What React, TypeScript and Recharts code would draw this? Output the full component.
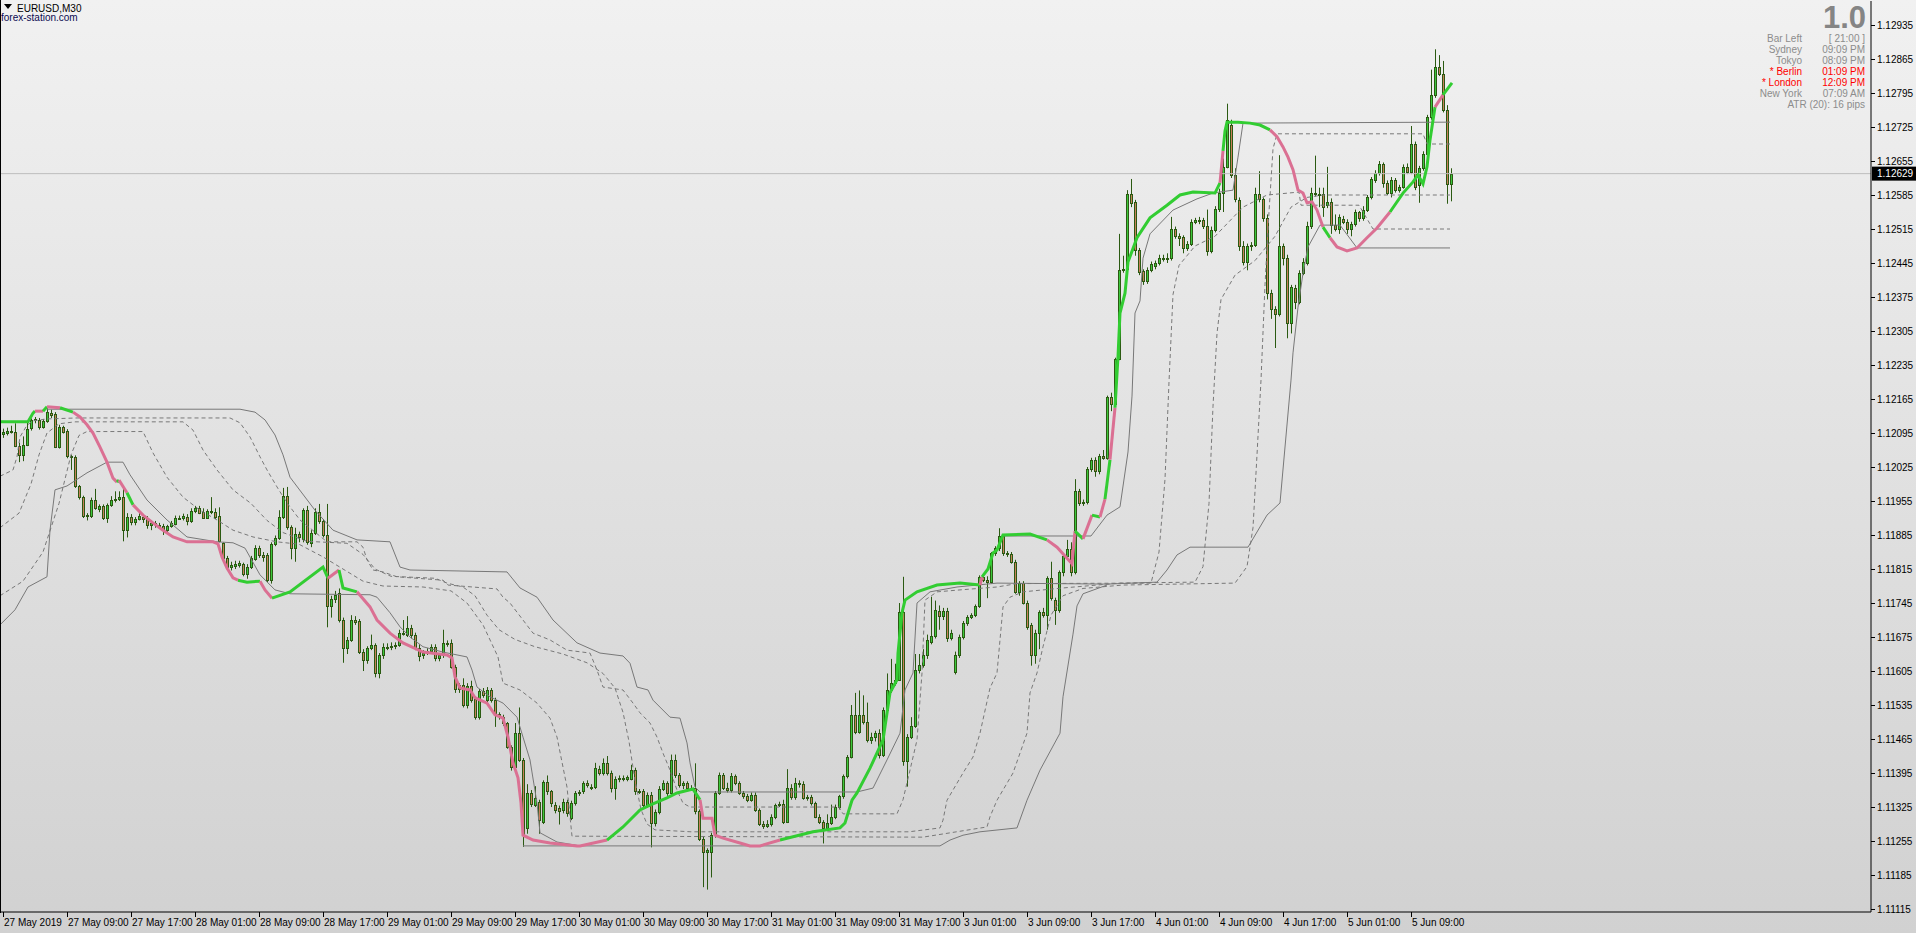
import React from 'react';
import { ComposedChart, Bar, Line, XAxis, YAxis, ReferenceLine } from 'recharts';

// price = 1.11 + v / 100000  (v = points above 1.11000)
const opens = [1092,1095,1099,1098,1069,1050,1071,1105,1121,1121,1107,1119,1137,1134,1066,1107,1099,1047,1045,985,964,925,925,958,938,945,921,947,958,959,963,896,923,911,918,922,920,906,910,906,904,895,903,908,921,920,923,914,935,940,932,921,934,932,925,868,837,820,822,824,826,805,819,836,858,843,844,793,867,879,923,966,901,859,888,876,937,868,889,933,913,885,739,753,765,710,652,669,710,707,645,628,652,659,600,638,655,655,656,659,683,679,693,679,652,638,643,647,655,631,638,662,663,614,567,576,535,575,547,511,563,545,566,545,516,511,497,449,408,477,422,281,353,330,336,295,376,357,329,322,319,336,302,333,353,357,374,367,367,404,395,415,395,364,383,385,383,383,401,357,358,329,350,292,315,363,374,353,422,391,370,374,364,365,316,260,233,233,268,354,391,365,360,388,374,353,347,340,350,319,291,286,291,305,329,332,295,364,345,374,372,343,346,333,305,295,281,292,305,326,347,388,429,515,480,515,501,463,470,477,432,525,566,580,587,727,419,470,491,607,617,638,665,677,729,718,729,672,604,638,676,703,717,720,738,799,792,789,847,858,882,847,845,830,768,786,746,700,638,683,727,720,796,751,731,808,841,857,808,975,951,952,1020,1039,1016,1048,1044,1170,1154,1248,1431,1432,1588,1571,1472,1429,1407,1431,1439,1446,1455,1455,1455,1514,1500,1498,1476,1484,1530,1533,1533,1521,1470,1512,1557,1590,1643,1730,1626,1575,1479,1448,1479,1482,1587,1576,1537,1383,1350,1341,1479,1455,1321,1393,1365,1424,1446,1521,1590,1587,1588,1564,1571,1523,1514,1535,1530,1514,1525,1549,1537,1555,1580,1616,1631,1649,1610,1590,1616,1595,1602,1642,1633,1689,1606,1640,1669,1746,1791,1848,1834,1760,1608];
const highs = [1104,1106,1110,1115,1075,1088,1117,1125,1128,1126,1124,1146,1143,1138,1112,1110,1103,1050,1049,988,966,930,962,980,948,948,950,965,975,975,985,930,928,922,930,926,924,915,914,910,908,906,914,925,925,929,928,940,945,945,940,938,963,940,942,870,842,830,832,832,828,825,842,864,863,850,848,870,884,936,982,984,905,900,892,940,945,895,940,949,918,949,760,770,775,715,675,720,718,712,650,656,680,662,642,662,662,664,664,690,710,718,700,684,660,648,652,660,660,642,690,668,670,618,580,590,580,585,552,568,570,572,570,550,520,515,500,452,498,530,426,372,360,368,340,380,390,360,335,328,342,340,338,358,360,378,380,372,416,410,425,430,400,388,390,390,390,412,406,362,362,355,356,320,368,380,378,433,433,395,378,378,370,415,320,265,240,272,358,396,395,375,395,392,378,358,352,355,355,322,296,298,310,332,336,340,403,372,385,380,378,350,350,336,310,298,310,330,330,350,392,432,535,560,565,555,540,478,482,485,530,600,630,620,745,799,475,510,640,640,650,680,758,750,740,735,735,690,645,680,708,720,724,742,802,806,800,850,862,899,886,852,850,834,790,790,750,704,690,730,735,800,830,756,812,845,875,870,1000,980,958,1025,1044,1045,1052,1060,1172,1178,1250,1505,1460,1595,1618,1575,1476,1432,1436,1448,1450,1462,1462,1465,1540,1520,1506,1502,1490,1535,1538,1540,1538,1555,1520,1562,1598,1660,1773,1740,1640,1580,1490,1485,1488,1600,1634,1580,1545,1390,1356,1667,1485,1462,1400,1400,1430,1455,1530,1600,1666,1600,1600,1643,1578,1545,1545,1542,1535,1530,1555,1552,1562,1585,1622,1636,1655,1652,1615,1622,1620,1606,1648,1650,1727,1695,1645,1675,1750,1843,1885,1873,1861,1770,1640];
const lows = [1085,1090,1094,1066,1035,1037,1068,1100,1115,1102,1104,1116,1126,1064,1063,1094,1043,1019,982,958,920,915,920,937,932,916,910,943,952,955,872,880,905,905,915,910,898,895,900,898,885,890,900,905,916,915,905,910,930,928,918,918,928,918,870,830,815,812,815,818,800,795,815,832,838,830,788,785,862,875,918,896,835,830,870,870,865,860,885,908,880,695,715,745,705,622,640,665,700,640,605,620,648,592,590,630,648,648,650,655,678,675,672,648,625,630,638,642,625,625,632,655,610,560,560,530,528,540,505,505,550,540,540,490,505,492,445,400,400,418,243,270,325,325,270,290,350,325,312,289,312,305,298,328,348,352,365,360,362,390,390,390,355,340,376,378,378,380,350,352,322,324,242,285,310,358,348,350,385,365,362,360,360,310,255,160,155,180,262,350,360,355,355,370,350,342,335,336,315,286,280,282,285,300,325,290,292,340,340,365,340,338,328,302,290,250,276,288,300,320,342,384,425,475,476,495,458,455,460,425,428,520,560,575,585,410,367,465,488,600,612,630,660,672,690,710,665,668,598,632,670,698,712,716,735,788,755,785,842,852,842,840,826,764,760,742,690,616,620,650,715,690,750,700,725,800,836,800,804,945,945,948,1015,1005,1010,1040,1040,1140,1150,1245,1425,1428,1560,1460,1420,1400,1402,1426,1432,1440,1448,1445,1450,1495,1480,1465,1470,1480,1525,1525,1515,1460,1465,1508,1550,1550,1640,1620,1570,1470,1440,1430,1470,1478,1570,1530,1370,1330,1270,1335,1440,1290,1300,1350,1360,1420,1440,1515,1582,1560,1540,1558,1505,1510,1505,1525,1505,1500,1520,1530,1532,1550,1576,1610,1625,1600,1585,1580,1590,1590,1598,1628,1628,1595,1569,1635,1665,1740,1785,1830,1755,1567,1572];
const closes = [1098,1100,1100,1069,1050,1071,1103,1121,1123,1108,1119,1139,1133,1066,1108,1098,1047,1045,985,964,925,927,958,940,945,921,947,958,959,963,896,923,911,918,925,918,906,910,907,903,896,903,910,921,920,925,914,935,940,931,921,935,932,923,872,837,820,823,826,827,805,820,837,858,843,840,793,867,879,923,966,901,859,888,880,937,870,889,933,913,885,738,753,761,710,652,669,710,705,645,628,652,659,600,638,655,655,656,659,683,683,693,679,652,635,643,647,655,631,638,662,662,614,567,576,535,575,545,511,563,555,566,545,518,512,497,449,408,477,422,267,353,332,344,298,376,357,333,319,316,336,312,333,353,355,374,371,367,405,395,415,395,364,383,385,383,386,401,357,358,329,350,292,315,363,374,353,422,391,370,374,364,365,316,260,233,236,268,354,391,365,360,388,374,353,347,340,350,319,291,286,291,305,329,332,295,364,345,374,372,343,346,333,305,295,281,292,305,326,347,388,429,515,480,515,501,463,470,477,432,525,566,580,587,727,419,470,491,607,617,638,669,677,731,718,729,672,684,638,676,703,717,720,738,799,792,789,847,858,882,847,845,830,768,786,746,696,638,683,727,720,796,755,731,808,841,857,808,975,951,952,1020,1039,1016,1048,1044,1170,1154,1248,1431,1432,1588,1569,1472,1427,1407,1431,1443,1446,1455,1455,1455,1514,1500,1496,1476,1484,1530,1533,1533,1521,1470,1512,1557,1590,1643,1739,1626,1576,1479,1448,1479,1482,1587,1576,1537,1383,1350,1341,1479,1455,1321,1395,1365,1424,1448,1521,1590,1587,1585,1561,1571,1523,1516,1539,1530,1514,1525,1549,1537,1555,1580,1617,1631,1649,1610,1590,1616,1595,1602,1642,1633,1689,1602,1640,1669,1746,1791,1848,1834,1761,1608,1629];

const timeLabelBars = [0,16,32,48,64,80,96,112,128,144,160,176,192,208,224,240,256,272,288,304,320,336,352];
const timeLabels = ['27 May 2019','27 May 09:00','27 May 17:00','28 May 01:00','28 May 09:00','28 May 17:00','29 May 01:00','29 May 09:00','29 May 17:00','30 May 01:00','30 May 09:00','30 May 17:00','31 May 01:00','31 May 09:00','31 May 17:00','3 Jun 01:00','3 Jun 09:00','3 Jun 17:00','4 Jun 01:00','4 Jun 09:00','4 Jun 17:00','5 Jun 01:00','5 Jun 09:00'];
const priceTicks = [1935,1865,1795,1725,1655,1585,1515,1445,1375,1305,1235,1165,1095,1025,955,885,815,745,675,605,535,465,395,325,255,185,115];
const lastPrice = 1629;

// thick trend line: vertices [bar, v] and direction of segment that starts at each vertex
const maPts = [[-0.75,1118],[6.25,1118],[7.5,1136],[8,1140],[10,1140],[11,1149],[14.25,1147],[17.5,1138],[19.25,1128],[21,1112],[22.5,1095],[24.25,1066],[26,1035],[27.5,1002],[28.5,994],[29,998],[31,972],[32.5,947],[35,926],[37.5,910],[40,895],[42.5,881],[46,871],[52.5,871],[53.75,867],[54.75,840],[56,817],[57.5,797],[58.75,792],[61,788],[64.25,790],[65.5,772],[67.25,755],[71.75,768],[80,819],[81.25,796],[84,813],[85,776],[88.5,768],[91.75,737],[93.5,710],[96.75,683],[100,663],[105,644],[111,638],[112.25,632],[113,593],[114.25,570],[116.75,566],[118,550],[121,539],[123,515],[125,508],[126.25,469],[127.5,416],[128.75,385],[129.5,333],[130,267],[132.5,257],[136.75,251],[143.5,245],[144.25,245],[151,257],[155,284],[159.25,319],[161.75,329],[166,344],[168.5,354],[172.5,362],[174.25,340],[175,302],[177.25,302],[178,267],[180,261],[184.25,251],[186.75,245],[189.25,245],[194.25,257],[202.5,274],[209.25,282],[210.5,292],[212.25,339],[213.5,354],[216.75,405],[220,463],[221.75,560],[223.5,587],[223.75,642],[224.75,725],[225.5,751],[228.5,768],[233.5,782],[239.25,786],[244.25,782],[244.75,799],[246.25,815],[247.5,848],[248.5,854],[250,885],[256.75,887],[261,875],[263.5,860],[267.25,826],[268,893],[270,877],[272.25,926],[274.25,922],[275.5,959],[276.75,1040],[278,1147],[278.75,1252],[279.25,1342],[280.5,1383],[281.25,1447],[283.5,1497],[286.75,1538],[291,1564],[294.25,1585],[297.5,1591],[303,1589],[304.25,1610],[305,1676],[305.5,1717],[306,1735],[308.75,1735],[311.75,1733],[314.25,1729],[316.75,1719],[318.5,1705],[320,1684],[321.25,1663],[322.5,1637],[323.75,1595],[325,1589],[326,1569],[327.25,1571],[328.5,1554],[330,1519],[331.75,1497],[333.5,1478],[336,1470],[338.5,1476],[341,1497],[343.5,1517],[346.75,1550],[350,1589],[352.5,1612],[353.75,1626],[355,1608],[356,1643],[356.75,1698],[358,1766],[360,1791],[362.25,1816]];
const maDirs = 'uuudududddddddududdddddddddduudduuuduudddddddddddddddddddddddduuuuuuudddddddduuuuuuuuuuuuuuuuduuuuuudddudududuuuuuuuuuuuduuuuuuddddddddddudddddduuuuuuuduuuuu';

// thin gray channel lines [bar, v]
const solidLine1 = [[11,1144],[59.25,1144],[63,1138],[65.5,1122],[68,1091],[70,1050],[71.75,1004],[78,936],[82.5,895],[88.5,875],[96.75,871],[99.25,819],[101.75,813],[126,809],[129.25,776],[133.5,757],[137.5,710],[143.5,663],[149.25,642],[155,636],[156.75,621],[158.5,572],[161.25,566],[162.5,545],[166.75,510],[169.25,508],[171,457],[171.75,416],[173,366],[174.25,356],[213.5,356],[217.5,364],[221,422],[224.25,477],[225.5,566],[227.5,601],[228.5,745],[231.75,768],[238.5,778],[248.5,786],[276,784],[288.5,788],[291,813],[293.5,844],[296.75,860],[311.25,860],[316,926],[319.25,951],[322,1204],[322.5,1260],[323.75,1354],[325,1424],[326.25,1478],[329.25,1523],[334.25,1523],[338.5,1476],[361.75,1476]];
const solidLine2 = [[130,245],[234.25,245],[236.75,257],[240,267],[244.25,274],[253.5,282],[256,339],[259.25,401],[264.25,477],[265,552],[267.5,681],[268.5,739],[270,764],[276,782]];
const solidLine3 = [[-0.75,700],[3,731],[6.25,778],[11,799],[11.75,895],[13,978],[16,986],[21,1013],[26,1035],[30,1035],[31.75,1009],[36,957],[41,916],[46,881],[53.5,871],[57.5,869],[60.5,858],[64.25,803],[68,772],[71.75,764],[91.75,762],[93.5,757],[96.75,725],[99.25,696],[101.75,675],[105,655],[110,644],[116,634],[117.25,607],[118.5,572],[121.75,552],[125,539],[128.5,510],[130,469],[131.75,422],[133.5,333],[134.25,272],[138.5,253],[144.25,245]];
const solidLine4 = [[250,883],[272,883],[276,926],[279.25,943],[281.25,1056],[282.25,1171],[283,1342],[284.25,1367],[285,1455],[286.75,1505],[292.5,1554],[298.5,1577],[302.5,1589],[307.5,1595],[308.75,1663],[310,1733],[361.75,1735]];
const dashedLine1 = [[-0.75,1006],[2.5,1019],[3.5,1046],[4.25,1087],[6,1111],[7.5,1120],[11,1124],[18.5,1126],[56.75,1126],[59.25,1116],[61.75,1087],[64.25,1046],[66,1019],[68.5,984],[71,951],[74.25,916],[81,871],[88.5,871],[90,860],[91,834],[92.5,813],[95,809],[98.5,799],[110,792],[111.25,782],[123.5,774],[125,757],[126.75,745],[130,710],[132.5,683],[136.75,669],[141,648],[146.75,642],[148.5,607],[150,572],[155,566],[157.5,539],[159.25,519],[161.75,498],[163.5,469],[165,436],[166.75,401],[168.5,360],[170,333],[171.75,325],[209,325],[210,311],[223.5,311],[225,340],[226.75,401],[228.5,463],[229.75,601],[230.5,751],[233.5,768],[239.25,772],[248.5,778],[253.5,785],[287,786],[289,850],[290.5,1000],[291.5,1200],[292.5,1380],[294,1440],[298,1480],[303,1500],[310,1560],[316,1585],[324,1591],[324.5,1564],[339,1564],[342.5,1515],[361.75,1515]];
const dashedLine2 = [[-0.75,900],[4,930],[7,990],[9,1050],[11,1095],[14,1114],[18,1118],[45,1118],[47.5,1101],[50,1060],[53.5,1019],[57.5,978],[62,950],[66,915],[70,890],[76,872],[86,868],[90,845],[93,815],[97,800],[108,796],[111,786],[115,778],[118,760],[121,720],[124,690],[128,670],[133,655],[140,640],[146,622],[150,600],[153,570],[155,520],[156.5,460],[158,380],[159.5,320],[161,290],[163,278],[172,274],[226.5,274],[234.25,282],[235,298],[236,339],[240,395],[242.5,428],[244.25,477],[246.75,570],[248.5,601],[250,737],[251.75,757],[255,768],[265,776],[279.25,786],[298,788],[300,820],[301.5,950],[302.5,1150],[303.5,1300],[304.5,1370],[308,1420],[313,1450],[318,1500],[322,1560],[326,1580],[330,1585],[361.75,1585]];
const dashedLine3 = [[-0.75,760],[5,790],[10,850],[14,950],[17,1050],[19,1090],[21,1098],[35,1098],[37.5,1054],[41,1004],[45,963],[49.25,936],[53.5,916],[57.5,895],[62.5,881],[68.5,871],[74,866],[80,840],[86,810],[90,790],[95,780],[105,778],[112,770],[116,745],[120,700],[123.75,634],[125,580],[129.25,566],[133.5,539],[136.75,508],[138.5,469],[141,366],[142.25,265],[230,263],[246,284],[246.75,305],[248.5,339],[252.5,395],[256,477],[256.75,560],[258.5,601],[260,655],[262,720],[265,760],[270,775],[280,782],[308,786],[311,820],[312.5,900],[313.5,1050],[314.5,1204],[315.5,1400],[316.5,1550],[317.5,1680],[318.5,1711],[355,1711],[356,1690],[361.75,1690]];

const grayLines = [
  { key: 's1', pts: solidLine1, dash: undefined },
  { key: 's2', pts: solidLine2, dash: undefined },
  { key: 's3', pts: solidLine3, dash: undefined },
  { key: 's4', pts: solidLine4, dash: undefined },
  { key: 'd1', pts: dashedLine1, dash: '4 3' },
  { key: 'd2', pts: dashedLine2, dash: '4 3' },
  { key: 'd3', pts: dashedLine3, dash: '4 3' },
];

const UP = '#32cd32';
const DOWN = '#db7093';
const WICK = '#2b5a12';
const BULL = '#3cc83c';
const BEAR = '#c8805a';
const GRAY = '#787878';
const FONT = '"Liberation Sans", Arial, sans-serif';

const candleRows = opens.map((o, i) => ({
  x: i, o, h: highs[i], l: lows[i], c: closes[i], range: [lows[i], highs[i]],
}));

function buildRuns() {
  const runs: { color: string; data: { x: number; y: number }[] }[] = [];
  for (let k = 0; k < maPts.length - 1; k++) {
    const color = maDirs[k] === 'u' ? UP : DOWN;
    const a = { x: maPts[k][0], y: maPts[k][1] };
    const b = { x: maPts[k + 1][0], y: maPts[k + 1][1] };
    const last = runs[runs.length - 1];
    if (last && last.color === color) last.data.push(b);
    else runs.push({ color, data: [a, b] });
  }
  return runs;
}
const maRuns = buildRuns();

const Candle = (props: any) => {
  const { x, y, width, height, payload } = props;
  if (!payload || x == null || y == null) return null;
  const { o, h, l, c } = payload;
  const cx = Math.round(x + width / 2);
  const ratio = h === l ? 0 : height / (h - l);
  const yOf = (v: number) => y + (h - v) * ratio;
  const top = Math.round(yOf(Math.max(o, c)));
  const bot = Math.round(yOf(Math.min(o, c)));
  const bull = c >= o;
  return (
    <g>
      <line x1={cx + 0.5} x2={cx + 0.5} y1={y} y2={y + height} stroke={WICK} strokeWidth={1} />
      <rect x={cx - 0.5} y={top + 0.5} width={2} height={Math.max(1, bot - top)} fill={bull ? BULL : BEAR} stroke={WICK} strokeWidth={1} />
    </g>
  );
};

const XTick = (props: any) => {
  const { x, y, payload } = props;
  const idx = timeLabelBars.indexOf(payload.value);
  const label = idx >= 0 ? timeLabels[idx] : '';
  const px = Math.round(x) + 0.5;
  return (
    <g>
      <line x1={px} x2={px} y1={y} y2={y + 5} stroke="#000" />
      <text x={px + 0.5} y={y + 14} fontSize={10} fontFamily={FONT} fill="#000">{label}</text>
    </g>
  );
};

const YTick = (props: any) => {
  const { x, y, payload } = props;
  const py = Math.round(y) + 0.5;
  return (
    <g>
      <line x1={x} x2={x + 4} y1={py} y2={py} stroke="#000" />
      <text x={x + 6} y={py + 3.5} fontSize={10} fontFamily={FONT} fill="#000">{(1.11 + payload.value / 100000).toFixed(5)}</text>
    </g>
  );
};

const PriceLabel = (props: any) => {
  const vb = props.viewBox || {};
  const xr = (vb.x || 0) + (vb.width || 0);
  const yy = vb.y || 0;
  return (
    <g>
      <rect x={xr + 1} y={yy - 7} width={44} height={14} fill="#000" />
      <text x={xr + 6} y={yy + 3.5} fontSize={10} fontFamily={FONT} fill="#fff">{(1.11 + lastPrice / 100000).toFixed(5)}</text>
    </g>
  );
};

const infoRows = [
  { label: 'Bar Left', value: '[ 21:00 ]', red: false },
  { label: 'Sydney', value: '09:09 PM', red: false },
  { label: 'Tokyo', value: '08:09 PM', red: false },
  { label: '* Berlin', value: '01:09 PM', red: true },
  { label: '* London', value: '12:09 PM', red: true },
  { label: 'New York', value: '07:09 AM', red: false },
];

export default function App() {
  return (
    <div style={{ position: 'fixed', left: 0, top: 0, width: 1916, height: 933, overflow: 'hidden', background: 'linear-gradient(to bottom, #f1f1f1 0%, #d1d1d1 100%)' }}>
      <ComposedChart width={1916} height={933} data={candleRows} margin={{ top: 1, right: 0, bottom: 0, left: 1 }}>
        <XAxis dataKey="x" type="number" domain={[-0.5, 467]} allowDataOverflow ticks={timeLabelBars} interval={0} height={21} tickSize={0} tickMargin={0} tickLine={false} axisLine={{ stroke: '#000' }} tick={<XTick />} />
        <YAxis type="number" orientation="right" width={45} domain={[108.9, 1984.4]} allowDataOverflow ticks={priceTicks} interval={0} tickSize={0} tickMargin={0} tickLine={false} axisLine={{ stroke: '#000' }} tick={<YTick />} />
        <ReferenceLine y={lastPrice} stroke="#bdbdbd" strokeWidth={1} label={<PriceLabel />} isFront={false} />
        {grayLines.map((g) => (
          <Line key={g.key} data={g.pts.map(([x, y]) => ({ x, y }))} dataKey="y" type="linear" stroke={GRAY} strokeWidth={1} strokeDasharray={g.dash} dot={false} activeDot={false} isAnimationActive={false} />
        ))}
        <Bar dataKey="range" barSize={3} shape={<Candle />} isAnimationActive={false} />
        {maRuns.map((r, i) => (
          <Line key={'ma' + i} data={r.data} dataKey="y" type="linear" stroke={r.color} strokeWidth={3} dot={false} activeDot={false} isAnimationActive={false} />
        ))}
      </ComposedChart>
      <div style={{ position: 'absolute', left: 0, top: 0, width: 1, height: 913, background: '#000' }} />
      <div style={{ position: 'absolute', left: 4, top: 4, width: 0, height: 0, borderLeft: '4px solid transparent', borderRight: '4px solid transparent', borderTop: '5px solid #000' }} />
      <div style={{ position: 'absolute', left: 17, top: 3, fontFamily: FONT, fontSize: 10, color: '#000', lineHeight: '12px' }}>EURUSD,M30</div>
      <div style={{ position: 'absolute', left: 1, top: 12, fontFamily: FONT, fontSize: 10, color: '#0a0a50', lineHeight: '12px' }}>forex-station.com</div>
      <div style={{ position: 'absolute', right: 1916 - 1866, top: 1, fontFamily: FONT, fontSize: 31, fontWeight: 'bold', color: '#858585', lineHeight: '34px' }}>1.0</div>
      {infoRows.map((r, i) => (
        <React.Fragment key={r.label}>
          <div style={{ position: 'absolute', right: 1916 - 1802, top: 33 + i * 11, fontFamily: FONT, fontSize: 10, color: r.red ? '#ff0000' : '#8c8c8c', lineHeight: '12px', whiteSpace: 'nowrap' }}>{r.label}</div>
          <div style={{ position: 'absolute', right: 1916 - 1865, top: 33 + i * 11, fontFamily: FONT, fontSize: 10, color: r.red ? '#ff0000' : '#8c8c8c', lineHeight: '12px', whiteSpace: 'nowrap' }}>{r.value}</div>
        </React.Fragment>
      ))}
      <div style={{ position: 'absolute', right: 1916 - 1865, top: 99, fontFamily: FONT, fontSize: 10, color: '#8c8c8c', lineHeight: '12px', whiteSpace: 'nowrap' }}>ATR (20): 16 pips</div>
    </div>
  );
}
